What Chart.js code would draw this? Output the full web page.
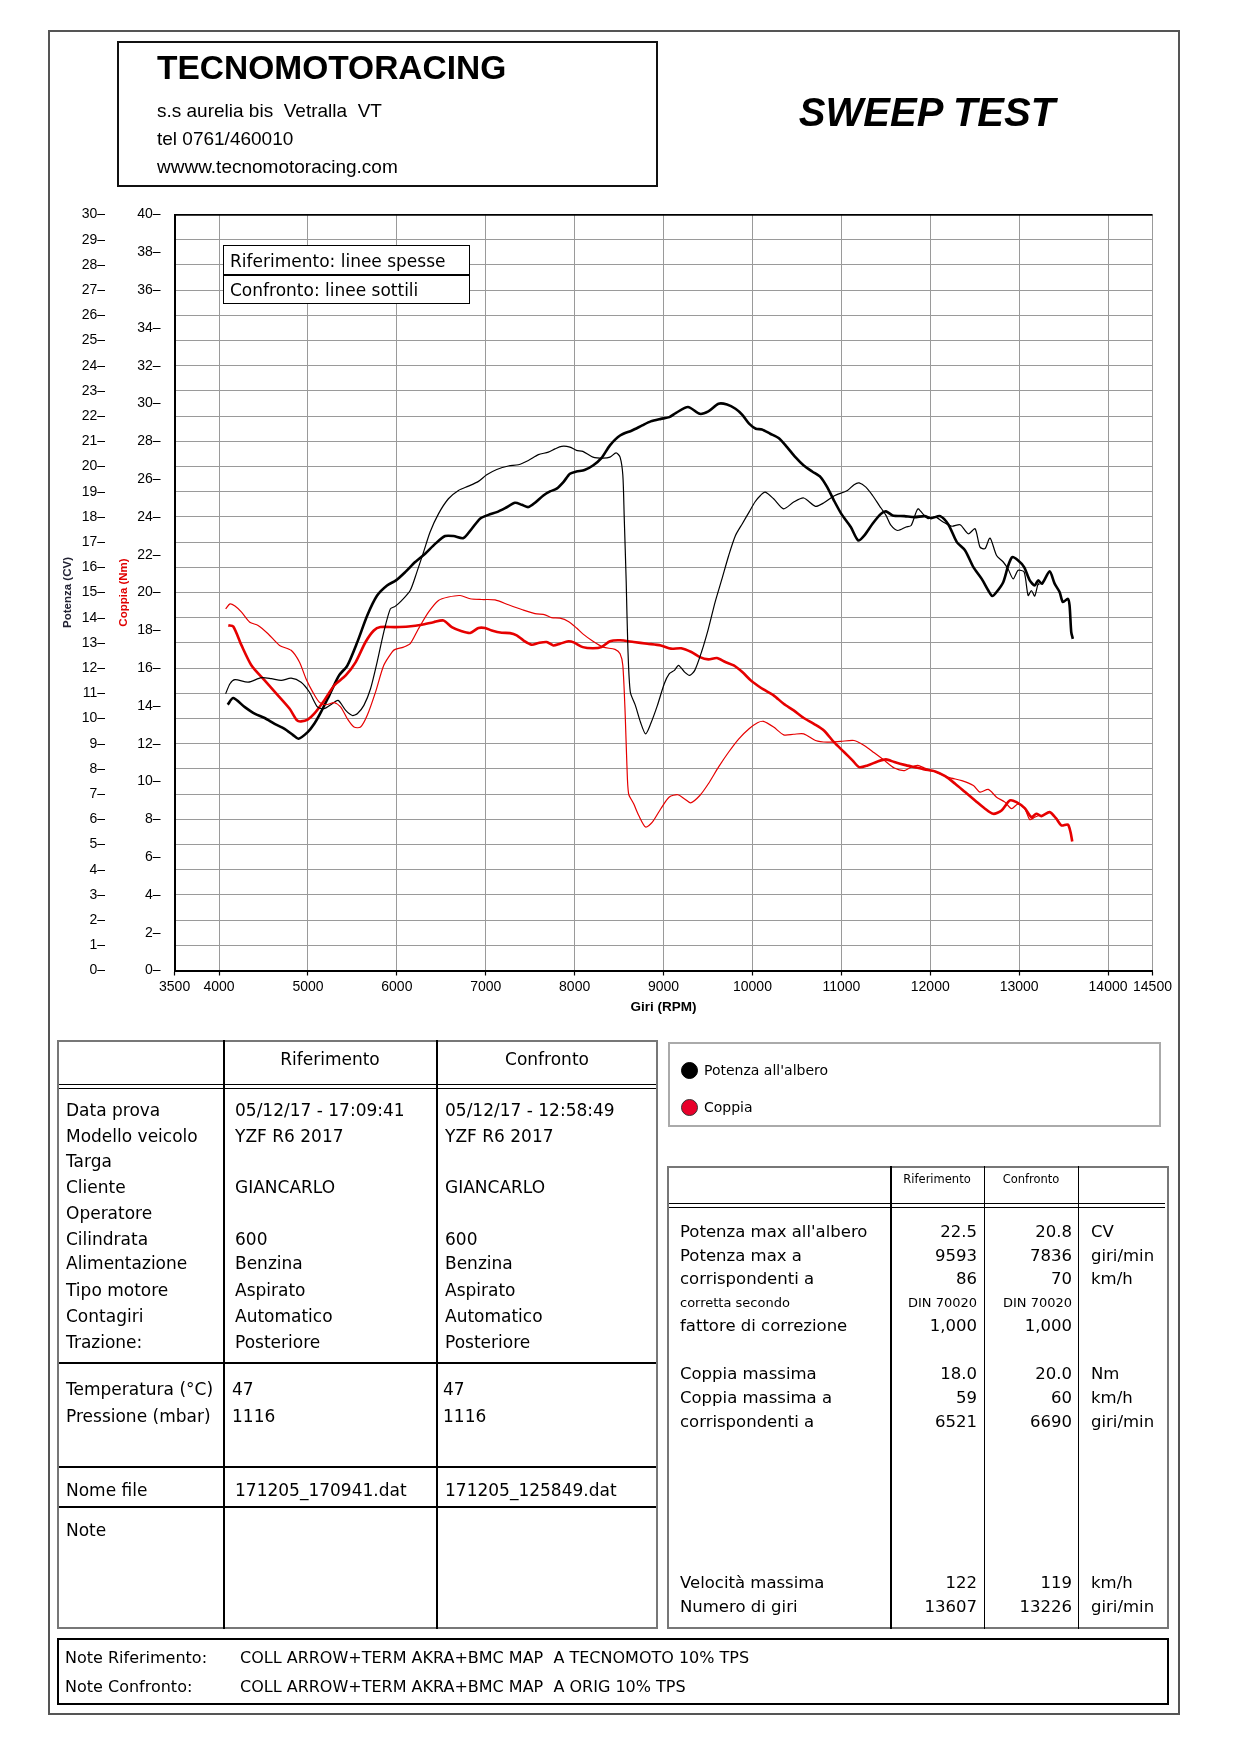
<!DOCTYPE html>
<html>
<head>
<meta charset="utf-8">
<script src="https://cdn.jsdelivr.net/npm/chart.js@4.4.1/dist/chart.umd.min.js"></script>
<style>
body { margin: 0; background: #fff; }
#page { position: relative; width: 1240px; height: 1754px; overflow: hidden; font-family: "DejaVu Sans", sans-serif; color: #000; }
.t { position: absolute; white-space: pre; line-height: 1; transform: translateY(-50%); }
.r { transform: translate(-100%, -50%); }
.c { transform: translate(-50%, -50%); }
.b { position: absolute; box-sizing: border-box; }
#chart { position: absolute; left: 50px; top: 190px; }
</style>
</head>
<body>
<div id="page">
  <canvas id="chart" width="1125" height="830"></canvas>
</div>
<script>
// Giri (RPM) per ogni curva e valori
const rpmPotRif = [4097,4160,4290,4400,4513,4625,4737,4830,4893,4997,5071,5146,5240,5350,5443,5555,5667,5778,5890,5990,6094,6206,6318,6431,6543,6637,6749,6843,6936,7030,7124,7218,7330,7405,7479,7554,7648,7723,7798,7873,7947,8020,8111,8206,8301,8397,8511,8645,8760,8855,8969,9065,9141,9275,9408,9504,9618,9714,9809,9886,9962,10038,10106,10200,10294,10389,10483,10577,10672,10766,10841,10917,11000,11106,11189,11257,11351,11445,11502,11577,11710,11823,11936,12011,12112,12205,12299,12392,12485,12579,12653,12698,12746,12821,12877,12922,12989,13056,13119,13175,13213,13257,13343,13399,13455,13492,13548,13567,13586,13604];
const potRif = [10.55,10.81,10.45,10.19,10.02,9.79,9.59,9.35,9.20,9.46,9.79,10.25,10.92,11.71,12.10,13.03,14.09,14.88,15.28,15.48,15.81,16.21,16.54,16.93,17.24,17.24,17.16,17.53,17.93,18.08,18.19,18.35,18.56,18.48,18.39,18.56,18.85,19.01,19.12,19.38,19.71,19.80,19.86,20.04,20.33,20.84,21.23,21.43,21.63,21.79,21.89,21.96,22.13,22.36,22.09,22.19,22.49,22.46,22.29,22.05,21.70,21.50,21.47,21.30,21.13,20.77,20.37,20.04,19.80,19.58,19.18,18.65,18.12,17.60,17.07,17.26,17.73,18.12,18.22,18.06,18.03,17.99,18.03,17.95,18.03,17.69,17.00,16.67,16.01,15.54,15.08,14.86,15.02,15.41,16.07,16.40,16.27,16.01,15.48,15.28,15.48,15.35,15.84,15.35,15.02,14.62,14.75,14.49,13.43,13.16];

const rpmPotConf = [4074,4123,4179,4327,4476,4588,4700,4811,4923,5016,5109,5183,5257,5339,5425,5499,5555,5629,5704,5778,5853,5927,5981,6056,6150,6225,6300,6374,6468,6580,6693,6805,6918,7011,7124,7255,7367,7479,7592,7704,7779,7854,7947,8020,8092,8206,8321,8397,8466,8511,8542,8557,8580,8599,8626,8683,8740,8798,8855,8931,9008,9065,9122,9168,9237,9294,9351,9427,9504,9580,9657,9733,9809,9886,9962,10030,10090,10143,10238,10351,10464,10577,10709,10804,10917,11068,11143,11200,11276,11351,11427,11502,11559,11634,11728,11785,11860,11917,11974,12056,12149,12243,12336,12429,12504,12560,12616,12672,12746,12821,12877,12933,12989,13056,13101,13138,13175,13213,13226];
const potConf = [10.98,11.38,11.54,11.44,11.62,11.58,11.51,11.60,11.44,11.05,10.45,10.39,10.55,10.72,10.32,10.12,10.19,10.52,11.18,12.24,13.43,14.35,14.45,14.69,15.08,15.81,16.60,17.40,18.12,18.72,19.05,19.22,19.41,19.67,19.88,20.02,20.07,20.24,20.47,20.57,20.70,20.80,20.77,20.64,20.60,20.37,20.33,20.37,20.54,20.37,19.65,18.06,15.41,12.77,11.05,10.52,9.86,9.39,9.79,10.52,11.38,11.78,11.91,12.11,11.84,11.71,11.91,12.64,13.56,14.62,15.54,16.47,17.26,17.73,18.19,18.60,18.85,18.98,18.72,18.32,18.59,18.75,18.42,18.56,18.83,19.05,19.28,19.35,19.18,18.85,18.45,18.06,17.66,17.46,17.60,17.66,18.32,18.12,17.93,18.00,17.79,17.63,17.69,17.33,17.53,16.80,16.74,17.16,16.47,16.21,15.92,15.54,15.88,15.81,14.88,15.08,14.86,15.35,15.30];

const rpmCopRif = [4104,4160,4253,4365,4513,4662,4792,4878,4923,4997,5071,5183,5295,5425,5537,5648,5741,5815,5981,6131,6281,6412,6524,6618,6730,6824,6918,6992,7067,7180,7273,7348,7423,7517,7592,7685,7760,7835,7929,7990,8092,8206,8301,8397,8511,8664,8817,8969,9084,9198,9313,9408,9504,9599,9695,9790,9886,9981,10057,10124,10238,10351,10464,10577,10691,10804,10917,11030,11125,11200,11294,11408,11502,11596,11710,11823,11936,12056,12168,12280,12392,12504,12616,12709,12802,12896,12970,13063,13138,13194,13250,13343,13418,13474,13548,13578,13597];
const copRif = [18.26,18.20,17.20,16.14,15.35,14.56,13.86,13.23,13.18,13.28,13.59,14.29,15.08,15.61,16.32,17.38,17.99,18.17,18.17,18.20,18.29,18.43,18.52,18.17,17.95,17.86,18.12,18.12,17.99,17.87,17.85,17.73,17.47,17.24,17.33,17.38,17.20,17.29,17.42,17.36,17.11,17.05,17.11,17.42,17.47,17.38,17.29,17.20,17.03,17.05,16.85,16.58,16.46,16.53,16.32,16.14,15.79,15.35,15.08,14.87,14.56,14.11,13.76,13.36,13.05,12.70,12.08,11.56,11.12,10.76,10.85,11.06,11.17,11.03,10.88,10.76,10.64,10.53,10.28,9.88,9.44,9.00,8.56,8.29,8.47,9.00,8.91,8.59,8.11,8.29,8.17,8.38,8.03,7.68,7.72,7.32,6.83];

const rpmCopConf = [4074,4123,4179,4253,4346,4439,4551,4681,4811,4904,4978,5053,5127,5202,5295,5369,5443,5518,5592,5667,5760,5853,5946,5981,6075,6150,6243,6356,6468,6580,6712,6824,6955,7105,7255,7405,7554,7667,7741,7835,7929,8022,8092,8206,8321,8454,8511,8542,8569,8588,8607,8664,8721,8798,8874,8969,9065,9160,9237,9305,9408,9504,9618,9733,9847,9962,10057,10124,10238,10351,10464,10577,10709,10841,10992,11143,11257,11370,11483,11596,11710,11785,11860,11936,12049,12205,12355,12485,12560,12653,12746,12840,12914,12989,13063,13119,13175,13220];
const copConf = [19.13,19.40,19.28,18.96,18.43,18.26,17.82,17.20,16.94,16.32,15.44,14.74,14.20,14.06,14.17,13.94,13.32,12.88,12.88,13.50,14.73,16.15,16.85,16.99,17.11,17.29,18.08,18.96,19.58,19.76,19.84,19.67,19.63,19.61,19.35,19.10,18.88,18.82,18.67,18.64,18.47,18.12,17.81,17.42,17.11,16.99,16.76,16.14,13.49,10.85,9.35,8.82,8.20,7.59,7.85,8.56,9.18,9.30,9.08,8.87,9.26,9.88,10.76,11.56,12.26,12.79,13.11,13.18,12.88,12.47,12.50,12.52,12.17,12.08,12.12,12.17,11.91,11.52,11.12,10.71,10.58,10.76,10.85,10.71,10.53,10.22,10.05,9.79,9.44,9.58,9.17,8.91,8.56,8.82,8.56,7.99,8.11,8.20];

const rpmTicks = [3500,4000,5000,6000,7000,8000,9000,10000,11000,12000,13000,14000,14500];

const page = document.getElementById('page');

function txt(s, x, y, size, cls, style) {
    const d = document.createElement('div');
    d.className = 't' + (cls ? ' ' + cls : '');
    d.textContent = s;
    d.style.left = x + 'px';
    d.style.top = y + 'px';
    d.style.fontSize = size + 'px';
    if (style) d.style.cssText += style;
    page.appendChild(d);
    return d;
}

function rect(x, y, w, h, border) {
    const d = document.createElement('div');
    d.className = 'b';
    d.style.cssText += `left:${x}px;top:${y}px;width:${w}px;height:${h}px;border:${border};`;
    page.appendChild(d);
    return d;
}

function hline(x1, x2, y, w, col) { return rect(x1, y, x2 - x1, w, 'none').style.background = col || '#000'; }
function vline(x, y1, y2, w, col) { return rect(x, y1, w, y2 - y1, 'none').style.background = col || '#000'; }

// cornice pagina e intestazione
rect(48, 30, 1132, 1685, '2px solid #555');
rect(117, 41, 541, 146, '2px solid #111');
const arial = "font-family:'Liberation Sans',Arial,sans-serif;";
txt('TECNOMOTORACING', 157, 68, 33.5, '', arial + 'font-weight:bold;');
txt('s.s aurelia bis  Vetralla  VT', 157, 110, 19, '', arial);
txt('tel 0761/460010', 157, 138, 19, '', arial);
txt('wwww.tecnomotoracing.com', 157, 166, 19, '', arial);
txt('SWEEP TEST', 927, 112, 40, 'c', arial + 'font-weight:bold;font-style:italic;');

// riquadro legenda nel grafico
const lg = rect(223, 245, 247, 59, '1.5px solid #000');
lg.style.background = '#fff';
lg.style.zIndex = 2;
const dv = rect(223, 274, 247, 1.5, 'none'); dv.style.background = '#000'; dv.style.zIndex = 3;
txt('Riferimento: linee spesse', 230, 261, 17).style.zIndex = 3;
txt('Confronto: linee sottili', 230, 290, 17).style.zIndex = 3;

// tabella sinistra
rect(57, 1040, 601, 589, '2px solid #777');
vline(223, 1040, 1629, 1.5);
vline(436, 1040, 1629, 1.5);
hline(59, 656, 1083.5, 1.5);
hline(59, 656, 1087.5, 1.5);
hline(59, 656, 1362, 1.5);
hline(59, 656, 1466, 1.5);
hline(59, 656, 1506, 1.5);
txt('Riferimento', 330, 1059, 17, 'c');
txt('Confronto', 547, 1059, 17, 'c');

const rowLabels = ['Data prova','Modello veicolo','Targa','Cliente','Operatore','Cilindrata','Alimentazione','Tipo motore','Contagiri','Trazione:','Temperatura (°C)','Pressione (mbar)','Nome file','Note'];
const rowY = [1110,1136,1161,1187,1213,1239,1263,1290,1316,1342,1389,1416,1490,1530];
const rifVals = ['05/12/17 - 17:09:41','YZF R6 2017','','GIANCARLO','','600','Benzina','Aspirato','Automatico','Posteriore','47','1116','171205_170941.dat',''];
const confVals = ['05/12/17 - 12:58:49','YZF R6 2017','','GIANCARLO','','600','Benzina','Aspirato','Automatico','Posteriore','47','1116','171205_125849.dat',''];
rowLabels.forEach((l, i) => {
    txt(l, 66, rowY[i], 17);
    const tight = (i === 10 || i === 11);
    if (rifVals[i]) txt(rifVals[i], tight ? 232 : 235, rowY[i], 17);
    if (confVals[i]) txt(confVals[i], tight ? 443 : 445, rowY[i], 17);
});

// legenda destra
rect(668, 1042, 493, 85, '2px solid #aaa');
const c1 = rect(680.5, 1061.5, 17, 17, '1px solid #000'); c1.style.borderRadius = '50%'; c1.style.background = '#000';
const c2 = rect(680.5, 1098.5, 17, 17, '1px solid #333'); c2.style.borderRadius = '50%'; c2.style.background = '#e8002a';
txt("Potenza all'albero", 704, 1070, 14);
txt('Coppia', 704, 1107, 14);

// tabella destra
rect(667, 1166, 502, 463, '2px solid #777');
vline(890, 1166, 1629, 1.5);
vline(983.5, 1166, 1629, 1.5);
vline(1077.5, 1166, 1629, 1.5);
hline(669, 1165, 1202.5, 1.5);
hline(669, 1165, 1206.5, 1.5);
txt('Riferimento', 937, 1180, 11.5, 'c');
txt('Confronto', 1031, 1180, 11.5, 'c');

const perfLabels = ["Potenza max all'albero",'Potenza max a','corrispondenti a','corretta secondo','fattore di correzione','Coppia massima','Coppia massima a','corrispondenti a','Velocità massima','Numero di giri'];
const perfY = [1232,1256,1279,1302,1326,1374,1398,1422,1583,1607];
const perfRif = ['22.5','9593','86','DIN 70020','1,000','18.0','59','6521','122','13607'];
const perfConf = ['20.8','7836','70','DIN 70020','1,000','20.0','60','6690','119','13226'];
const perfUnit = ['CV','giri/min','km/h','','','Nm','km/h','giri/min','km/h','giri/min'];
perfLabels.forEach((l, i) => {
    const sz = i === 3 ? 13 : 16.5;
    txt(l, 680, perfY[i], sz);
    txt(perfRif[i], 977, perfY[i], sz, 'r');
    txt(perfConf[i], 1072, perfY[i], sz, 'r');
    if (perfUnit[i]) txt(perfUnit[i], 1091, perfY[i], 16.5);
});

// note
rect(57, 1638, 1112, 67, '2px solid #000');
txt('Note Riferimento:', 65, 1658, 16);
txt('COLL ARROW+TERM AKRA+BMC MAP  A TECNOMOTO 10% TPS', 240, 1658, 16);
txt('Note Confronto:', 65, 1687, 16);
txt('COLL ARROW+TERM AKRA+BMC MAP  A ORIG 10% TPS', 240, 1687, 16);

// grafico
const pts = (xs, ys) => xs.map((x, i) => ({ x: x, y: ys[i] }));
const tickFont = "'Liberation Sans Narrow', 'Liberation Sans', Arial, sans-serif";
const gridCol = '#9a9a9a';

function lineSet(label, xs, ys, axis, color, width) {
    return {
        label: label, data: pts(xs, ys), yAxisID: axis,
        borderColor: color, borderWidth: width, pointRadius: 0,
        tension: 0.25, fill: false
    };
}

new Chart(document.getElementById('chart'), {
    type: 'line',
    data: {
        datasets: [
            lineSet('Coppia confronto', rpmCopConf, copConf, 'yCop', '#e60000', 1.2),
            lineSet('Potenza confronto', rpmPotConf, potConf, 'yPot', '#000', 1.2),
            lineSet('Coppia riferimento', rpmCopRif, copRif, 'yCop', '#e60000', 2.6),
            lineSet('Potenza riferimento', rpmPotRif, potRif, 'yPot', '#000', 2.6)
        ]
    },
    options: {
        responsive: false,
        animation: false,
        layout: { padding: { top: 24.5, right: 22.5, left: 0, bottom: 0 } },
        plugins: { legend: { display: false }, tooltip: { enabled: false } },
        scales: {
            x: {
                type: 'linear', min: 3500, max: 14500,
                afterBuildTicks: s => { s.ticks = rpmTicks.map(v => ({ value: v })); },
                afterFit: s => { s.height = 49.5; },
                grid: { color: gridCol, lineWidth: 1, drawTicks: true, tickLength: 5, tickColor: '#000', tickWidth: 1.2 },
                border: { display: true, color: '#000', width: 2 },
                ticks: { color: '#000', font: { family: tickFont, size: 14 }, padding: 3, maxRotation: 0, autoSkip: false, callback: v => String(v) },
                title: { display: true, text: 'Giri (RPM)', color: '#000', font: { family: tickFont, size: 13.5, weight: 'bold' }, padding: { top: 0, bottom: 5 } }
            },
            yPot: {
                type: 'linear', position: 'left', weight: 1, min: 0, max: 30,
                afterFit: s => { s.width = 60; },
                ticks: { stepSize: 1, color: '#000', font: { family: tickFont, size: 14 }, padding: 5, callback: v => v + '–' },
                grid: { color: c => (c.tick && c.tick.value === 30) ? '#000' : gridCol, lineWidth: c => (c.tick && c.tick.value === 30) ? 1.8 : 1, drawTicks: false },
                border: { display: false },
                title: { display: true, text: 'Potenza (CV)', color: '#223', font: { family: tickFont, size: 11.5, weight: 'bold' }, padding: { top: 11, bottom: 0 } }
            },
            yCop: {
                type: 'linear', position: 'left', weight: 0, min: 0, max: 40,
                afterFit: s => { s.width = 64.6; },
                ticks: { stepSize: 2, color: '#000', font: { family: tickFont, size: 14 }, padding: 14, callback: v => v + '–' },
                grid: { drawOnChartArea: false, drawTicks: false },
                border: { display: true, color: '#000', width: 2 },
                title: { display: true, text: 'Coppia (Nm)', color: '#e00000', font: { family: tickFont, size: 11.5, weight: 'bold' }, padding: { top: 7, bottom: 0 } }
            }
        }
    }
});
</script>
</body>
</html>
